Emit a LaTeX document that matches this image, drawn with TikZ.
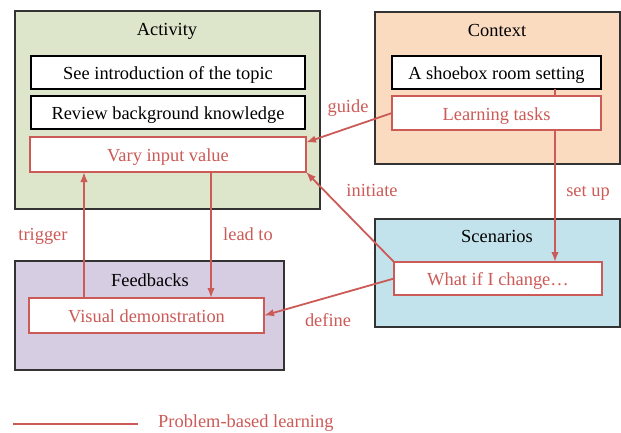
\documentclass[tikz,border=0pt]{standalone}
\usepackage{fontspec}
\setmainfont{Liberation Serif}
\usepackage{xcolor}
\usepackage{tikz}
\usetikzlibrary{arrows.meta}

\definecolor{pblred}{HTML}{CC5A57}
\definecolor{actgreen}{HTML}{DDE6CA}
\definecolor{ctxpeach}{HTML}{FBDBBF}
\definecolor{scnblue}{HTML}{C3E3EC}
\definecolor{fbpurple}{HTML}{D7CDE3}

\begin{document}
\begin{tikzpicture}[
  x=1pt, y=-1pt,
  font=\fontsize{18.4}{22}\selectfont,
  group/.style={draw=black!80, line width=1.5pt, inner sep=0pt, outer sep=0pt},
  item/.style={draw=black, fill=white, line width=1.4pt, inner sep=0pt,
               outer sep=0pt, minimum height=33pt, text height=18pt, text depth=4pt},
  task/.style={draw=pblred, fill=white, text=pblred, line width=1.4pt,
               inner sep=0pt, outer sep=0pt, minimum height=34pt,
               text height=18pt, text depth=4pt},
  title/.style={inner sep=0pt, anchor=base},
  tag/.style={text=pblred, inner sep=0pt, anchor=base},
  arrow/.style={-{Latex[length=10pt, width=7.5pt]}, draw=pblred, line width=1.8pt}
]
  \useasboundingbox (0,0) rectangle (621,432);

  % four groups
  \node[group, fill=actgreen, minimum width=305pt, minimum height=198pt] (activity) at (167.5,110) {};
  \node[group, fill=ctxpeach, minimum width=245pt, minimum height=152pt] (context) at (497.5,88) {};
  \node[group, fill=scnblue, minimum width=245pt, minimum height=108pt] (scenarios) at (497.5,273) {};
  \node[group, fill=fbpurple, minimum width=269pt, minimum height=109pt] (feedbacks) at (149.5,315.5) {};

  \node[title] (actT) at (167,35) {Activity};
  \node[title] (ctxT) at (497,36) {Context};
  \node[title] (scnT) at (497,242) {Scenarios};
  \node[title] (fbT) at (150,286) {Feedbacks};

  % boxes inside the groups
  \node[item, minimum width=274pt] (intro) at (168,72.5) {See introduction of the topic};
  \node[item, minimum width=274pt] (review) at (168,112.5) {Review background knowledge};
  \node[task, minimum width=276pt, minimum height=35pt] (vary) at (168,154.5) {Vary input value};
  \node[item, minimum width=209pt] (shoebox) at (496.5,72.5) {A shoebox room setting};
  \node[task, minimum width=208pt, minimum height=33pt] (whatif) at (498,278.5) {What if I change\dots};
  \node[task, minimum width=235pt, minimum height=35pt] (visual) at (146.5,315.5) {Visual demonstration};

  \coordinate (setupX) at (555,0);
  \coordinate (trigX) at (84,0);
  \coordinate (leadX) at (211,0);

  % runs under the learning tasks box
  \draw[arrow] (shoebox.south -| setupX) -- (whatif.north -| setupX);
  \node[task, minimum width=209pt] (learn) at (496.5,113) {Learning tasks};

  \draw[arrow] (learn.west) -- (vary.5);
  \draw[arrow] (whatif.north west) -- (vary.south east);
  \draw[arrow] (vary.south -| leadX) -- (visual.north -| leadX);
  \draw[arrow] (visual.north -| trigX) -- (vary.south -| trigX);
  \draw[arrow] (whatif.west) -- (visual.east);

  \node[tag] (guideL) at (348,112.5) {guide};
  \node[tag] (initL) at (372,196) {initiate};
  \node[tag] (setupL) at (588,196) {set up};
  \node[tag] (leadL) at (248,240) {lead to};
  \node[tag] (trigL) at (43,240) {trigger};
  \node[tag] (defL) at (328,326) {define};

  % legend
  \coordinate (legA) at (13,424);
  \coordinate (legB) at (138,424);
  \draw[draw=pblred, line width=1.8pt] (legA) -- (legB);
  \node[tag, anchor=base west] (legT) at (158,427) {Problem-based learning};
\end{tikzpicture}
\end{document}
